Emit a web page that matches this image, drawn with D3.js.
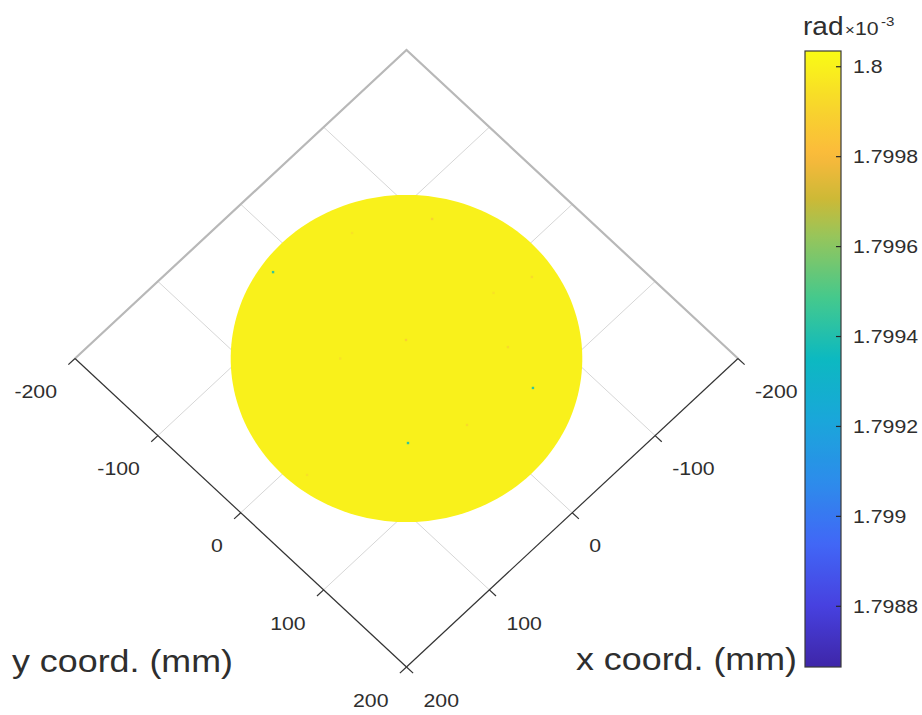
<!DOCTYPE html>
<html>
<head>
<meta charset="utf-8">
<script src="https://cdn.jsdelivr.net/npm/d3@7"></script>
<style>
  html, body { margin: 0; background: #fff; }
  svg { display: block; }
  text { font-family: "Liberation Sans", Arial, Helvetica, sans-serif; fill: #2e2e2e; }
</style>
</head>
<body>
<svg id="chart" width="922" height="715"></svg>
<script>
// ---- data -------------------------------------------------------------
// axis ticks (mm)
const xTicks = [-200, -100, 0, 100, 200];
const yTicks = [-200, -100, 0, 100, 200];
const gridLevels = [-100, 0, 100];
const axisDomain = [-200, 200];

// phase field (units of 1e-3 rad): uniform disc plus a few isolated samples
const discRadius = 150;     // mm
const discValue = 1.8;
const speckX = [24.5, -57.2, 53.9, -105.9, -11.7, -68.6, 6.6, -128.5, -48.5, 135.5, 40.0, -95.0];
const speckY = [-136.5, 95.4, 55.7, -75.0, -12.3, 53.8, 79.6, 22.8, -114.2, 15.5, -40.0, 10.0];
const speckV = [1.79945, 1.79945, 1.79945, 1.7999, 1.7999, 1.79993, 1.79993, 1.79993, 1.79995, 1.79995, 1.79995, 1.79995];

// colour limits and colourbar ticks
const cLim = [1.798665, 1.800035];
const cbTicks = [1.7988, 1.799, 1.7992, 1.7994, 1.7996, 1.7998, 1.8];
const cbTickLabels = ["1.7988", "1.799", "1.7992", "1.7994", "1.7996", "1.7998", "1.8"];

// parula-like colormap stops
const cmapPos = [0, 0.10, 0.20, 0.30, 0.40, 0.50, 0.60, 0.70, 0.76, 0.83, 0.90, 1.0];
const cmapHex = ["#3e26a8", "#4741e0", "#4167f6", "#2d8ceb", "#1aa6da", "#0cb9c1",
                 "#45c98c", "#98c55a", "#cdb936", "#fbb93c", "#f8d22e", "#f9fb15"];

// ---- layout ------------------------------------------------------------
const svg = d3.select("#chart");
const cx = 406.5, cy = 358.5;          // centre of the projected xy-plane
const halfW = 331.5, halfH = 308.5;    // half diagonals of the projected box
const stretch = 1.12;                  // horizontal stretch of all lettering

// view from above, rotated 45 degrees: x runs to lower-left, y to lower-right
const hScale = d3.scaleLinear().domain(axisDomain).range([-halfW / 2, halfW / 2]);
const vScale = d3.scaleLinear().domain(axisDomain).range([-halfH / 2, halfH / 2]);
const proj = (x, y) => [cx + hScale(y) - hScale(x), cy + vScale(x) + vScale(y)];

const cNorm = d3.scaleLinear().domain(cLim).range([0, 1]);
const cmap = d3.scaleLinear().domain(cmapPos).range(cmapHex).interpolate(d3.interpolateRgb).clamp(true);
const colorOf = v => cmap(cNorm(v));

const lineGen = d3.line();
const seg = (a, b) => lineGen([proj(a[0], a[1]), proj(b[0], b[1])]);

function label(g, x, y, str, size, anchor, extra) {
  const t = g.append("text")
    .attr("transform", `translate(${x},${y}) scale(${stretch},1)`)
    .attr("text-anchor", anchor)
    .style("font-size", size + "px")
    .text(str);
  if (extra) extra(t);
  return t;
}

const [lo, hi] = axisDomain;

// ---- grid -------------------------------------------------------------
const grid = svg.append("g").attr("stroke", "#d6d6d6").attr("stroke-width", 1).attr("fill", "none");
gridLevels.forEach(v => {
  grid.append("path").attr("d", seg([v, lo], [v, hi]));   // constant x
  grid.append("path").attr("d", seg([lo, v], [hi, v]));   // constant y
});

// back edges of the box
svg.append("path")
  .attr("d", lineGen([proj(hi, lo), proj(lo, lo), proj(lo, hi)]))
  .attr("fill", "none").attr("stroke", "#b8b8b8").attr("stroke-width", 2.2);

// ---- surface ----------------------------------------------------------
const discPts = d3.range(0, 360, 2).map(a => {
  const r = a * Math.PI / 180;
  return proj(discRadius * Math.cos(r), discRadius * Math.sin(r));
});
svg.append("path")
  .attr("d", d3.line().curve(d3.curveLinearClosed)(discPts))
  .attr("fill", colorOf(discValue));

svg.append("g").selectAll("rect")
  .data(speckX.map((x, i) => ({ x, y: speckY[i], v: speckV[i] })))
  .join("rect")
  .attr("x", d => proj(d.x, d.y)[0] - 1.2)
  .attr("y", d => proj(d.x, d.y)[1] - 1.2)
  .attr("width", 2.4).attr("height", 2.4)
  .attr("fill", d => colorOf(d.v));

// ---- front axes ---------------------------------------------------------
const axes = svg.append("g").attr("stroke", "#333").attr("stroke-width", 1.2).attr("fill", "none");
axes.append("path").attr("d", seg([hi, lo], [hi, hi]));   // y axis (x = 200)
axes.append("path").attr("d", seg([lo, hi], [hi, hi]));   // x axis (y = 200)
const tickLen = 8; // mm
yTicks.forEach(t => axes.append("path").attr("d", seg([hi, t], [hi + tickLen, t])));
xTicks.forEach(t => axes.append("path").attr("d", seg([t, hi], [t, hi + tickLen])));

const fmt = d => String(d);
const tl = svg.append("g");
yTicks.forEach(t => {
  const p = proj(hi, t);
  label(tl, p[0] - 18, p[1] + 33, fmt(t), 19, "end", s => s.attr("dy", "0.35em"));
});
xTicks.forEach(t => {
  const p = proj(t, hi);
  label(tl, p[0] + 17, p[1] + 33, fmt(t), 19, "start", s => s.attr("dy", "0.35em"));
});

// axis titles
const leftC = proj(hi, lo), rightC = proj(lo, hi), bottomC = proj(hi, hi);
label(svg, leftC[0] - 63, bottomC[1] + 5, "y coord. (mm)", 32, "start");
label(svg, rightC[0] + 59, bottomC[1] + 3, "x coord. (mm)", 32, "end");

// ---- colourbar ---------------------------------------------------------
const cbX = 805, cbW = 36, cbTop = 51, cbBot = 667;
const cbScale = d3.scaleLinear().domain(cLim).range([cbBot, cbTop]);

const grad = svg.append("defs").append("linearGradient")
  .attr("id", "cbGrad").attr("x1", 0).attr("y1", 1).attr("x2", 0).attr("y2", 0);
d3.range(0, 1.0001, 0.02).forEach(t => {
  grad.append("stop").attr("offset", t).attr("stop-color", cmap(t));
});
svg.append("rect")
  .attr("x", cbX).attr("y", cbTop).attr("width", cbW).attr("height", cbBot - cbTop)
  .attr("fill", "url(#cbGrad)").attr("stroke", "#3a3a3a").attr("stroke-width", 1.2);

const cbAxis = svg.append("g");
cbTicks.forEach((v, i) => {
  const y = cbScale(v);
  cbAxis.append("line")
    .attr("x1", cbX + cbW - 5).attr("x2", cbX + cbW).attr("y1", y).attr("y2", y)
    .attr("stroke", "#262626").attr("stroke-width", 1.2);
  label(cbAxis, cbX + cbW + 12, y, cbTickLabels[i], 19, "start", s => s.attr("dy", "0.35em"));
});

// colourbar title with exponent
label(svg, cbX - 2, 35, "rad", 25, "start");
label(svg, cbX + 40, 35, "\u00d7", 15, "start");
label(svg, cbX + 50, 35, "10", 19, "start");
label(svg, cbX + 76, 26, "-3", 13.5, "start");
</script>
</body>
</html>
